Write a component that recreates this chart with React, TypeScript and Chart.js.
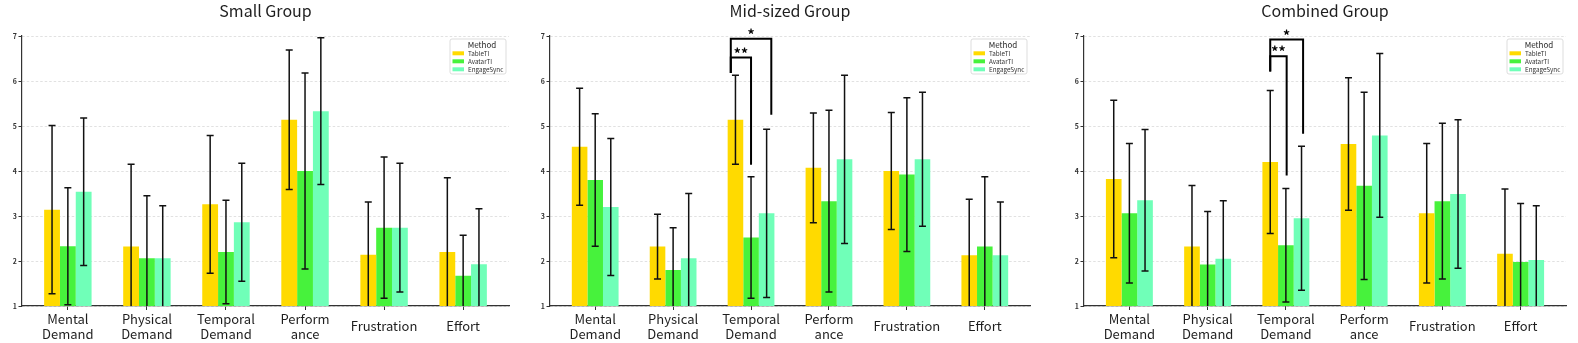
import React, { useEffect, useRef } from "react";
import { Chart, registerables } from "chart.js";

Chart.register(...registerables);

// ---------- data ----------
const categories: string[][] = [
  ["Mental", "Demand"],
  ["Physical", "Demand"],
  ["Temporal", "Demand"],
  ["Perform", "ance"],
  ["Frustration"],
  ["Effort"],
];
const categoryPositions = [0, 1, 2, 3, 4, 5];
const methods = ["TableTI", "AvatarTI", "EngageSync"];
const methodColors = ["#FFDA00", "#47F23C", "#70FFB8"];
const yTicks = [1, 2, 3, 4, 5, 6, 7];
const groupTitles = ["Small Group", "Mid-sized Group", "Combined Group"];

// Small group
const smallTableTIMean = [3.14, 2.32, 3.26, 5.14, 2.14, 2.2];
const smallTableTISd = [1.87, 1.83, 1.53, 1.55, 1.17, 1.65];
const smallAvatarTIMean = [2.33, 2.06, 2.2, 4.0, 2.74, 1.67];
const smallAvatarTISd = [1.3, 1.39, 1.15, 2.18, 1.57, 0.9];
const smallEngageSyncMean = [3.54, 2.06, 2.86, 5.33, 2.74, 1.93];
const smallEngageSyncSd = [1.64, 1.17, 1.31, 1.63, 1.43, 1.23];

// Mid-sized group
const midTableTIMean = [4.54, 2.32, 5.14, 4.07, 4.0, 2.13];
const midTableTISd = [1.3, 0.72, 0.99, 1.22, 1.3, 1.24];
const midAvatarTIMean = [3.8, 1.8, 2.52, 3.33, 3.92, 2.32];
const midAvatarTISd = [1.47, 0.94, 1.35, 2.02, 1.71, 1.55];
const midEngageSyncMean = [3.2, 2.06, 3.06, 4.26, 4.26, 2.13];
const midEngageSyncSd = [1.52, 1.44, 1.87, 1.87, 1.49, 1.18];

// Combined group
const combTableTIMean = [3.82, 2.32, 4.2, 4.6, 3.06, 2.16];
const combTableTISd = [1.75, 1.36, 1.59, 1.47, 1.55, 1.44];
const combAvatarTIMean = [3.06, 1.92, 2.35, 3.67, 3.33, 1.98];
const combAvatarTISd = [1.55, 1.18, 1.26, 2.08, 1.73, 1.3];
const combEngageSyncMean = [3.35, 2.05, 2.95, 4.79, 3.49, 2.02];
const combEngageSyncSd = [1.57, 1.29, 1.6, 1.82, 1.65, 1.21];

// Significance brackets (category index, x offsets in category units, y values)
const midSigLabels = ["**", "*"];
const midSigCategory = [2, 2];
const midSigX1 = [-0.26, -0.26];
const midSigX2 = [0.0, 0.26];
const midSigTop = [6.52, 6.94];
const midSigLeftEnd = [6.18, 6.18];
const midSigRightEnd = [4.14, 5.25];

const combSigLabels = ["**", "*"];
const combSigCategory = [2, 2];
const combSigX1 = [-0.2, -0.2];
const combSigX2 = [0.01, 0.22];
const combSigTop = [6.55, 6.92];
const combSigLeftEnd = [6.21, 6.21];
const combSigRightEnd = [3.9, 4.83];

const groupMeans = [
  [smallTableTIMean, smallAvatarTIMean, smallEngageSyncMean],
  [midTableTIMean, midAvatarTIMean, midEngageSyncMean],
  [combTableTIMean, combAvatarTIMean, combEngageSyncMean],
];
const groupSds = [
  [smallTableTISd, smallAvatarTISd, smallEngageSyncSd],
  [midTableTISd, midAvatarTISd, midEngageSyncSd],
  [combTableTISd, combAvatarTISd, combEngageSyncSd],
];
const groupSigs = [
  null,
  { labels: midSigLabels, cat: midSigCategory, x1: midSigX1, x2: midSigX2, top: midSigTop, le: midSigLeftEnd, re: midSigRightEnd },
  { labels: combSigLabels, cat: combSigCategory, x1: combSigX1, x2: combSigX2, top: combSigTop, le: combSigLeftEnd, re: combSigRightEnd },
];

// ---------- layout ----------
const W = 1578;
const H = 343;
const AREA_LEFT = [22, 550, 1084];
const AREA_RIGHT = [509, 1030, 1566];
const AREA_TOP = 36;
const AREA_BOTTOM = 306;
const Y_AXIS_W = 20;
const FONT = "'Noto Sans CJK SC', 'Noto Sans', sans-serif";
const TEXT = "#1e1e1e";

function makeOverlay(g: number) {
  return {
    id: "overlay" + g,
    afterDatasetsDraw(chart: any) {
      const ctx = chart.ctx;
      const xs = chart.scales.x;
      const ys = chart.scales.y;
      const area = chart.chartArea;

      // error bars
      ctx.save();
      ctx.beginPath();
      ctx.rect(area.left, area.top - 2, area.right - area.left, area.bottom - area.top + 2);
      ctx.clip();
      ctx.strokeStyle = "#111";
      ctx.lineWidth = 1.5;
      for (let i = 0; i < methods.length; i++) {
        const meta = chart.getDatasetMeta(i);
        const means = groupMeans[g][i];
        const sds = groupSds[g][i];
        meta.data.forEach((el: any, j: number) => {
          const x = el.x;
          const yt = ys.getPixelForValue(means[j] + sds[j]);
          const yb = ys.getPixelForValue(means[j] - sds[j]);
          ctx.beginPath();
          ctx.moveTo(x, yt);
          ctx.lineTo(x, yb);
          ctx.moveTo(x - 3.5, yt);
          ctx.lineTo(x + 3.5, yt);
          ctx.moveTo(x - 3.5, yb);
          ctx.lineTo(x + 3.5, yb);
          ctx.stroke();
        });
      }
      ctx.restore();

      // significance brackets
      const sig = groupSigs[g];
      if (sig) {
        ctx.save();
        ctx.strokeStyle = "#000";
        ctx.lineWidth = 2;
        ctx.lineJoin = "miter";
        ctx.fillStyle = "#000";
        ctx.font = `bold 14px ${FONT}`;
        ctx.textAlign = "center";
        ctx.textBaseline = "alphabetic";
        for (let k = 0; k < sig.labels.length; k++) {
          const x1 = xs.getPixelForValue(sig.cat[k] + sig.x1[k]);
          const x2 = xs.getPixelForValue(sig.cat[k] + sig.x2[k]);
          const yTop = ys.getPixelForValue(sig.top[k]);
          const yL = ys.getPixelForValue(sig.le[k]);
          const yR = ys.getPixelForValue(sig.re[k]);
          ctx.beginPath();
          ctx.moveTo(x1, yL);
          ctx.lineTo(x1, yTop);
          ctx.lineTo(x2, yTop);
          ctx.lineTo(x2, yR);
          ctx.stroke();
          ctx.fillText(sig.labels[k], (x1 + x2) / 2, yTop + 1);
        }
        ctx.restore();
      }
    },
    afterDraw(chart: any) {
      const ctx = chart.ctx;
      const xs = chart.scales.x;
      const area = chart.chartArea;
      ctx.save();

      // title
      ctx.fillStyle = TEXT;
      ctx.font = `16px ${FONT}`;
      ctx.textAlign = "center";
      ctx.textBaseline = "alphabetic";
      ctx.fillText(groupTitles[g], (area.left + area.right) / 2, 17);

      // x labels
      ctx.font = `13px ${FONT}`;
      categories.forEach((lines, j) => {
        const x = xs.getPixelForValue(categoryPositions[j]);
        if (lines.length === 2) {
          ctx.fillText(lines[0], x, 324);
          ctx.fillText(lines[1], x, 338.5);
        } else {
          ctx.fillText(lines[0], x, 331);
        }
      });

      // legend
      const bw = 56;
      const bh = 35;
      const bx = area.right - 3 - bw;
      const by = area.top + 3;
      ctx.beginPath();
      if ((ctx as any).roundRect) (ctx as any).roundRect(bx, by, bw, bh, 2);
      else ctx.rect(bx, by, bw, bh);
      ctx.fillStyle = "rgba(255,255,255,0.85)";
      ctx.fill();
      ctx.strokeStyle = "#d4d4d4";
      ctx.lineWidth = 0.8;
      ctx.stroke();
      ctx.fillStyle = TEXT;
      ctx.font = `8px ${FONT}`;
      ctx.textAlign = "center";
      ctx.textBaseline = "middle";
      ctx.fillText("Method", bx + bw / 2 + 4, by + 5.5);
      ctx.font = `6.3px ${FONT}`;
      ctx.textAlign = "left";
      methods.forEach((m, i) => {
        const ry = by + 14.3 + i * 8;
        ctx.fillStyle = methodColors[i];
        ctx.fillRect(bx + 2.5, ry - 2, 11.5, 4);
        ctx.fillStyle = "#333";
        ctx.fillText(m, bx + 18, ry + 0.3);
      });
      ctx.restore();
    },
  };
}

function GroupChart({ g }: { g: number }) {
  const ref = useRef<HTMLCanvasElement | null>(null);
  useEffect(() => {
    if (!ref.current) return;
    const datasets = methods.map((m, i) => ({
      label: m,
      data: categoryPositions.map((x, j) => ({ x, y: groupMeans[g][i][j] })),
      backgroundColor: methodColors[i],
      borderWidth: 0,
      categoryPercentage: 0.6,
      barPercentage: 1.0,
    }));
    const chart = new Chart(ref.current, {
      type: "bar",
      data: { datasets } as any,
      options: {
        animation: false,
        responsive: false,
        maintainAspectRatio: false,
        devicePixelRatio: 1,
        events: [],
        layout: {
          padding: {
            left: AREA_LEFT[g] - Y_AXIS_W,
            right: W - AREA_RIGHT[g],
            top: AREA_TOP,
            bottom: 0,
          },
        },
        scales: {
          x: {
            type: "linear",
            min: -0.58,
            max: 5.58,
            offset: false,
            afterBuildTicks: (s: any) => {
              s.ticks = categoryPositions.map((v) => ({ value: v }));
            },
            afterFit: (s: any) => {
              s.height = H - AREA_BOTTOM;
            },
            ticks: { display: false },
            grid: {
              offset: false,
              drawOnChartArea: false,
              drawTicks: true,
              tickLength: 4,
              tickColor: "#333",
              tickWidth: 1,
            },
            border: { color: "#333", width: 1.2 },
          },
          y: {
            min: 1,
            max: 7,
            afterBuildTicks: (s: any) => {
              s.ticks = yTicks.map((v) => ({ value: v }));
            },
            afterFit: (s: any) => {
              s.width = Y_AXIS_W;
            },
            ticks: {
              padding: 1.5,
              color: "#333",
              font: { family: FONT, size: 7, weight: "bold" },
            },
            grid: {
              color: "#d9d9d9",
              lineWidth: 0.8,
              drawTicks: true,
              tickLength: 3.5,
              tickColor: "#333",
              tickWidth: 1,
            },
            border: { color: "#333", width: 1.2, dash: [2.5, 2] },
          },
        },
        plugins: {
          legend: { display: false },
          tooltip: { enabled: false },
          title: { display: false },
        },
      } as any,
      plugins: [makeOverlay(g)],
    });
    return () => chart.destroy();
  }, [g]);
  return (
    <canvas
      ref={ref}
      width={W}
      height={H}
      style={{ position: "absolute", left: 0, top: 0, width: W, height: H }}
    />
  );
}

export default function App() {
  return (
    <div style={{ position: "fixed", left: 0, top: 0, width: W, height: H, background: "#fff" }}>
      {[0, 1, 2].map((g) => (
        <GroupChart key={g} g={g} />
      ))}
    </div>
  );
}
